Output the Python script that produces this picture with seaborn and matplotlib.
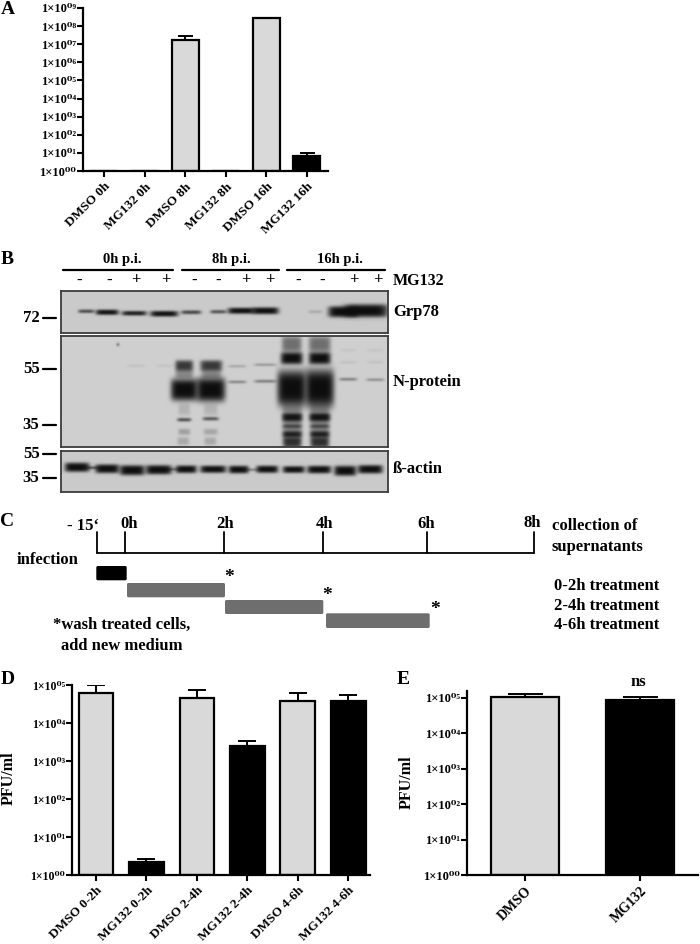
"""
Multi-panel figure: viral titres (A, D, E), western blots (B) and treatment scheme (C).
"""

import numpy as np
import pandas as pd
import matplotlib.pyplot as plt
from matplotlib.patches import FancyBboxPatch
import seaborn as sns

W, H = 700, 944
GREY = "#d9d9d9"
BLACK = "#000000"

# panel A
a_labels = ["DMSO 0h", "MG132 0h", "DMSO 8h", "MG132 8h", "DMSO 16h", "MG132 16h"]
a_values = [1, 1, 1.7e7, 1, 2.7e8, 6.7]
a_upper = [1, 1, 3e7, 1, 2.9e8, 9.4]
a_exponents = list(range(10))

# panel D
d_labels = ["DMSO 0-2h", "MG132 0-2h", "DMSO 2-4h", "MG132 2-4h", "DMSO 4-6h", "MG132 4-6h"]
d_values = [6e4, 2.2, 4.6e4, 2.5e3, 3.7e4, 3.9e4]
d_upper = [1e5, 2.7, 7.3e4, 3.4e3, 6e4, 5.6e4]

# panel E
e_labels = ["DMSO", "MG132"]
e_values = [1.07e5, 8.6e4]
e_upper = [1.3e5, 1.05e5]
de_exponents = list(range(6))

# panel B, band densities with their shape in the blot (x, y, half width, half height)
grp78_density = [0.75, 1, 0.95, 1, 0.75, 0.7, 1, 1, 0.2, 1, 1]
grp78_shape = [
    (86, 311.5, 8, 1.6), (107, 312.5, 11.5, 2.6), (134, 313.5, 12.5, 2.2), (164, 314, 14, 2.8),
    (191, 312.5, 10, 1.8), (218, 312, 8, 1.6), (241, 311, 13.5, 3), (265, 311, 13.5, 3.4),
    (315, 312, 7, 1.3), (343, 312, 15, 5.5), (366, 311, 22, 6.5),
]
actin_density = [1] * 12 + [0.8, 0.6, 0.6]
actin_shape = [
    (77, 467, 12.5, 4.6), (107, 468.5, 12, 4.4), (132, 470, 12.5, 5), (158.5, 469.5, 13, 4.6),
    (186, 469, 10.5, 3.8), (213, 469, 13, 3.6), (238.5, 469.3, 10, 3.8), (267, 469, 11, 3.6),
    (293.5, 469.3, 11, 3.4), (319, 469.3, 12, 3.8), (345, 470.5, 11, 5), (370, 469, 12.5, 4.2),
    (92, 467.5, 6, 1), (172, 469, 6, 1), (252, 469.5, 6, 0.8),
]
n_density = [
    # 0h p.i., faint signals and a speck
    0.08, 0.07, 0.6,
    # 8h p.i. lanes
    1, 1, 0.78, 0.78, 0.35, 0.35, 0.72, 0.68, 0.25, 0.22, 0.2, 0.2, 0.14, 0.14,
    0.28, 0.45, 0.38, 0.5,
    # 16h p.i. lanes
    1, 1, 1, 1, 0.5, 0.5, 0.95, 0.95, 0.55, 0.55, 0.85, 0.85, 0.75, 0.75, 0.45, 0.45,
    0.5, 0.1, 0.08, 0.42, 0.1, 0.08,
]
n_shape = [
    (136, 365.5, 9, 1.2), (165, 365.5, 9, 1.2), (117.7, 344.3, 1.3, 1.3),
    (184, 389.5, 13.5, 11), (210.7, 389.5, 14.5, 12),
    (184, 365.5, 9, 5.5), (211, 365.5, 11, 5.5), (184, 374, 9, 4), (211, 374, 10, 4),
    (184, 419.5, 7, 1.6), (210.5, 418.5, 8, 1.6), (184, 431.5, 6, 3), (210.5, 431.5, 7, 3),
    (183, 441, 6, 4), (210, 441, 6, 4), (184, 409, 6, 6), (210.5, 409, 7, 6),
    (237, 366, 9, 1), (237, 381.7, 9, 1.2), (265, 364.5, 11, 1), (265, 381, 11, 1.3),
    (291.5, 388, 14.5, 18), (319.5, 388, 14.5, 19),
    (291.5, 358, 11, 6), (319.5, 358, 11, 6), (291.5, 344, 10, 8), (319.5, 344, 11, 8),
    (292, 417, 10, 3.8), (319.5, 417, 10.5, 3.8), (292, 426, 9.5, 1.5), (319.5, 426, 9.5, 1.5),
    (292, 434, 9.5, 2.8), (319.5, 434, 9.5, 2.8), (292, 442, 9, 5), (319.5, 442, 9, 5),
    (292, 425, 10, 22), (319.5, 425, 10, 22),
    (348, 379, 9, 1.2), (348, 362, 8, 1), (348, 350, 8, 1),
    (375, 379.5, 9, 1.1), (375, 362, 8, 1), (375, 350, 8, 1),
]

# panel C, time points on the scheme line
time_labels = ["0h", "2h", "4h", "6h", "8h"]
time_x = [125.3, 224, 323.3, 427.3, 533.7]
start_x = 97.3
treatment_labels = ["0-2h treatment", "2-4h treatment", "4-6h treatment"]

sns.set_style("ticks", {"axes.edgecolor": "black", "text.color": "black",
                        "xtick.color": "black", "ytick.color": "black",
                        "axes.labelcolor": "black"})
plt.rcParams["font.family"] = ["Liberation Serif", "DejaVu Serif"]
plt.rcParams["font.weight"] = "bold"
plt.rcParams["axes.labelweight"] = "bold"


def px_axes(fig, left, top, right, bottom):
    """Axes placed by its pixel edges, y counted from the top of the figure."""
    return fig.add_axes([left / W, 1 - bottom / H, (right - left) / W, (bottom - top) / H])


def sup_label(exponent):
    sup = "⁰¹²³⁴⁵⁶⁷⁸⁹"
    return f"1×10⁰{sup[exponent]}"


def titre_panel(ax, labels, values, upper, exponents, xlim, top_exp, bar_w, cap_px,
                tick_size, label_size):
    # the axis is drawn in decades, bars start at the 1x10^0 baseline
    groups = [name.split()[0] for name in labels]
    vals = np.log10(np.array(values, dtype=float))
    ups = np.log10(np.array(upper, dtype=float))
    df = pd.DataFrame({"sample": labels, "titre": vals, "group": groups})
    sns.barplot(
        data=df, x="sample", y="titre", hue="group", dodge=False, legend=False,
        palette={"DMSO": GREY, "MG132": BLACK}, saturation=1, errorbar=None,
        width=bar_w, edgecolor="black", linewidth=1.6, ax=ax,
    )
    # only the upper arm of the error bar, bars at the baseline have none
    show = ups > vals
    ax.errorbar(
        np.arange(len(vals))[show], vals[show], yerr=[np.zeros(show.sum()), (ups - vals)[show]],
        fmt="none", ecolor="black", elinewidth=1.4, capsize=cap_px * 0.36, capthick=1.4, zorder=1,
    )
    ax.set_xlim(*xlim)
    ax.set_ylim(0, top_exp)
    ax.set_yticks(exponents)
    ax.set_yticklabels([sup_label(e) for e in exponents], fontsize=tick_size)
    ax.set_xticks(range(len(labels)))
    ax.set_xticklabels(labels, rotation=45, ha="right", rotation_mode="anchor", fontsize=label_size)
    ax.tick_params(axis="both", width=1.5, length=4, pad=3)
    ax.tick_params(axis="y", pad=1)
    ax.set_xlabel("")
    ax.set_ylabel("")
    ax.patch.set_alpha(0)
    for side in ["left", "bottom"]:
        ax.spines[side].set_linewidth(1.6)
    sns.despine(ax=ax)


def soften(image, sigma=2.0):
    """Small blur so the bands look like scanned film, sigma in image samples."""
    radius = int(3 * sigma)
    kernel = np.exp(-0.5 * (np.arange(-radius, radius + 1) / sigma) ** 2)
    kernel /= kernel.sum()
    padded = np.pad(image, radius, mode="edge")
    for axis in (0, 1):
        padded = np.apply_along_axis(lambda m: np.convolve(m, kernel, mode="same"), axis, padded)
    return padded[radius:-radius, radius:-radius]


def blot_panel(fig, left, top, right, bottom, density, shape, background):
    """Grey film image built up from the band densities, drawn as a heatmap."""
    step = 0.5
    xs = np.arange(left, right, step) + step / 2
    ys = np.arange(top, bottom, step) + step / 2
    xx, yy = np.meshgrid(xs, ys)
    clear = np.ones_like(xx)
    for d, (cx, cy, hw, hh) in zip(density, shape):
        clear *= 1 - d * np.exp(-np.abs((xx - cx) / hw) ** 6 - np.abs((yy - cy) / hh) ** 4)
    image = soften(0.05 + (background - 0.05) * clear)
    ax = px_axes(fig, left, top, right, bottom)
    sns.heatmap(image, vmin=0, vmax=1, cmap="gray", cbar=False,
                xticklabels=False, yticklabels=False, ax=ax)
    for spine in ax.spines.values():
        spine.set_visible(True)
        spine.set_color("#3c3c3c")
        spine.set_linewidth(1.3)


fig = plt.figure(figsize=(W / 100, H / 100), dpi=100)

# panel A
ax_a = px_axes(fig, 83, 8, 328, 171)
titre_panel(ax_a, a_labels, a_values, a_upper, a_exponents, (-0.517, 5.52), 9, 0.665, 15, 9, 9.5)

# panel D
ax_d = px_axes(fig, 72, 685, 370, 875)
titre_panel(ax_d, d_labels, d_values, d_upper, de_exponents, (-0.475, 5.43), 5, 0.687, 18, 8.5, 9.5)
ax_d.set_ylabel("PFU/ml", fontsize=11.5)
ax_d.yaxis.set_label_coords((17 - 72) / 298, (875 - 778) / 190)

# panel E
ax_e = px_axes(fig, 467, 691, 698, 875)
titre_panel(ax_e, e_labels, e_values, e_upper, de_exponents, (-0.504, 1.504), 5.19, 0.59, 35, 9, 10)
ax_e.set_ylabel("PFU/ml", fontsize=11.5)
ax_e.yaxis.set_label_coords((415 - 467) / 231, (875 - 782) / 184)

# panel B
blot_panel(fig, 60.5, 291.5, 387.5, 332.5, grp78_density, grp78_shape, 0.79)
blot_panel(fig, 60.5, 336, 387.5, 446.5, n_density, n_shape, 0.81)
blot_panel(fig, 60.5, 450.5, 387.5, 491.5, actin_density, actin_shape, 0.79)

# everything else sits on one transparent axes in pixel units
canvas = px_axes(fig, 0, 0, W, H)
canvas.set_xlim(0, W)
canvas.set_ylim(H, 0)
canvas.axis("off")


def put(x, y, text, size=12, ha="left", **kw):
    canvas.text(x, y, text, fontsize=size, ha=ha, va="center", **kw)


for letter, x, y in [("A", 1, 9), ("B", 1, 260), ("C", 0, 522), ("D", 1, 680), ("E", 397, 680)]:
    put(x, y, letter, size=14)
put(638, 682, "ns", ha="center")

# blot headers
for name, x0, x1, xc in [("0h p.i.", 63.3, 173.3, 122), ("8h p.i.", 181.7, 279.3, 231.7),
                         ("16h p.i.", 286.7, 385, 340)]:
    canvas.plot([x0, x1], [269.5, 269.5], color="black", lw=1.6)
    put(xc, 260, name, size=10.5, ha="center")
sign_x = [79, 109, 135.7, 165.7, 194.3, 218.3, 245.7, 270, 297.7, 321.7, 354.3, 377.7]
sign_text = ["-", "-", "+", "+", "-", "-", "+", "+", "-", "-", "+", "+"]
for x, s in zip(sign_x, sign_text):
    put(x, 280.5, s, ha="center")
put(393, 281, "MG132", size=11.5)
put(393, 312, "Grp78")
put(393, 382, "N-protein")
put(393, 469, "ß-actin")
for mark, y in [("72", 317.7), ("55", 369.3), ("35", 425), ("55", 453.7), ("35", 477.7)]:
    canvas.plot([43.3, 55.7], [y, y], color="black", lw=1.6)
    put(39.5, y, mark, ha="right")

# panel C
line_y = 553.3
canvas.plot([start_x, time_x[-1]], [line_y, line_y], color="black", lw=1.3)
for x in [start_x] + time_x:
    canvas.plot([x, x], [532, line_y], color="black", lw=1.3)
put(99, 526.5, "- 15‘", ha="right")
for name, x, y in zip(time_labels, [129, 225, 324, 426, 532.3], [524, 524, 524, 524, 523]):
    put(x, y, name, ha="center")
put(551.7, 525.7, "collection of")
put(551.7, 546.7, "supernatants")
put(17, 560, "infection")
for name, y in zip(treatment_labels, [586, 606, 625.3]):
    put(554.3, y, name)
put(122, 625, "*wash treated cells,", ha="center")
put(122, 646, "add new medium", ha="center")
for x, y in [(228.7, 578), (326.7, 595), (435, 610)]:
    put(x, y, "*", size=14, ha="center")
for x0, x1, y0, y1, color in [(96.3, 126.7, 566, 580.3, "#000000"), (127, 225, 583, 597.3, "#6e6e6e"),
                              (225, 323.3, 600, 614, "#6e6e6e"), (326, 429.7, 613.3, 628, "#6e6e6e")]:
    canvas.add_patch(FancyBboxPatch((x0 + 1, y0 + 1), x1 - x0 - 2, y1 - y0 - 2,
                                    boxstyle="round,pad=1,rounding_size=1.5",
                                    facecolor=color, edgecolor="none"))

fig.savefig("out.png", dpi=100)
